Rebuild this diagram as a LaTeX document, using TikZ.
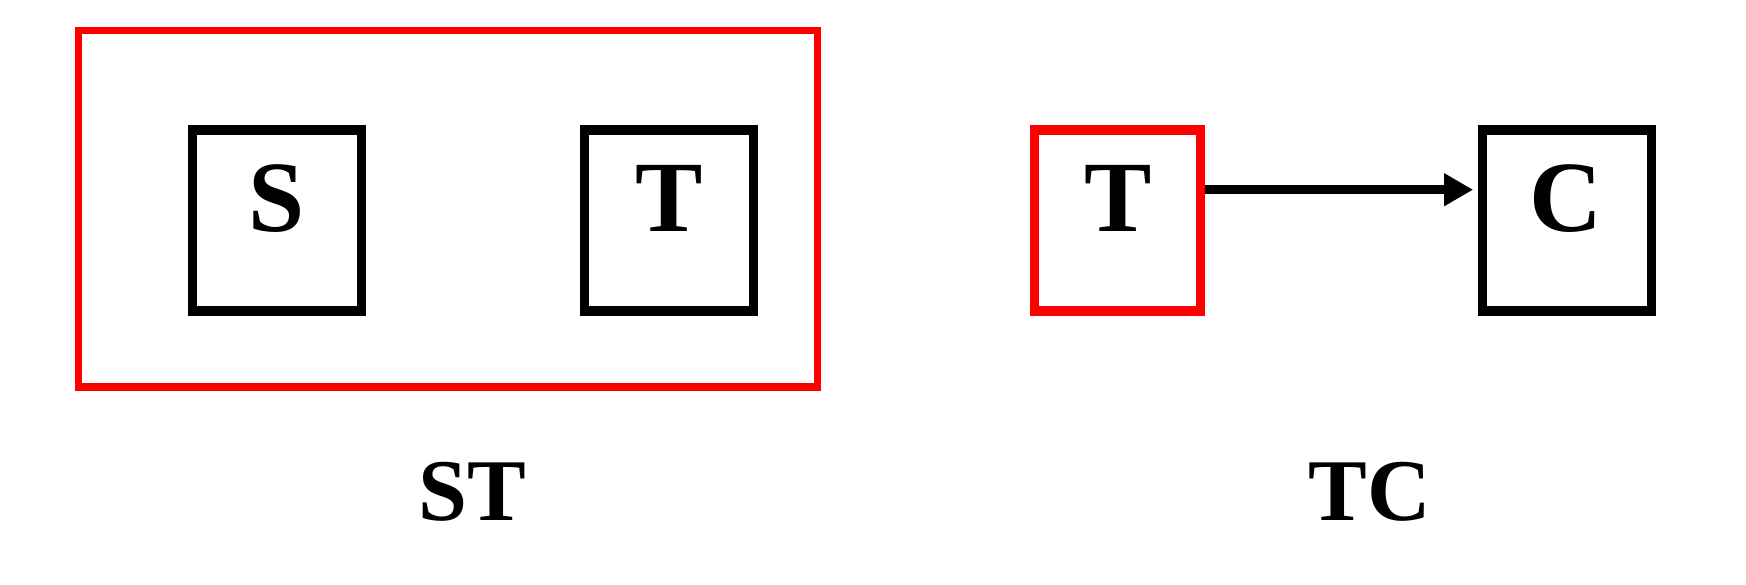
\documentclass[tikz,border=0pt]{standalone}
\usepackage{fontspec}
\IfFontExistsTF{LiberationSerif-Bold.ttf}
  {\newfontfamily\lbold{LiberationSerif-Bold.ttf}}
  {\newfontfamily\lbold{Liberation Serif}[FakeBold=3]}
\usetikzlibrary{arrows.meta}
\begin{document}
\begin{tikzpicture}[x=1pt,y=-1pt,
  box/.style={draw=black,line width=9.5pt,inner sep=0pt,minimum width=169pt,minimum height=181pt},
  redbox/.style={draw=red,line width=9.5pt,inner sep=0pt,minimum width=166pt,minimum height=181pt},
  bigbox/.style={draw=red,line width=7.5pt,inner sep=0pt,minimum width=739pt,minimum height=356.5pt},
  letter/.style={anchor=base,inner sep=0pt,font=\lbold\fontsize{101}{110}\selectfont},
  caption/.style={anchor=base,inner sep=0pt,font=\lbold\fontsize{88}{100}\selectfont},
  conn/.style={line width=9.5pt,-{Triangle[length=29pt,width=31pt]}}]
\useasboundingbox (0,0) rectangle (1746,584);
\fill[white] (0,0) rectangle (1746,584);
\node[bigbox] (st) at (448,208.75) {};
\node[box] (S) at (277,220.5) {};
\node[box] (T) at (668.8,220.5) {};
\node[box] (C) at (1566.9,220.7) {};
\draw[conn,shorten <=4.5pt,shorten >=4.5pt] ([yshift=31pt]1117.6,220.7 -| 1200.5,0) coordinate (as) -- (as -| C.west);
\node[redbox] (Tr) at (1117.6,220.7) {};
\node[letter] (Sl) at (277,231.5) {S};
\node[letter] (Tl) at (669,231.5) {T};
\node[letter] (Trl) at (1118,231.5) {T};
\node[letter] (Cl) at (1566,231.5) {C};
\node[caption] (STl) at (472.5,520) {ST};
\node[caption] (TCl) at (1370,520) {TC};
\end{tikzpicture}
\end{document}
